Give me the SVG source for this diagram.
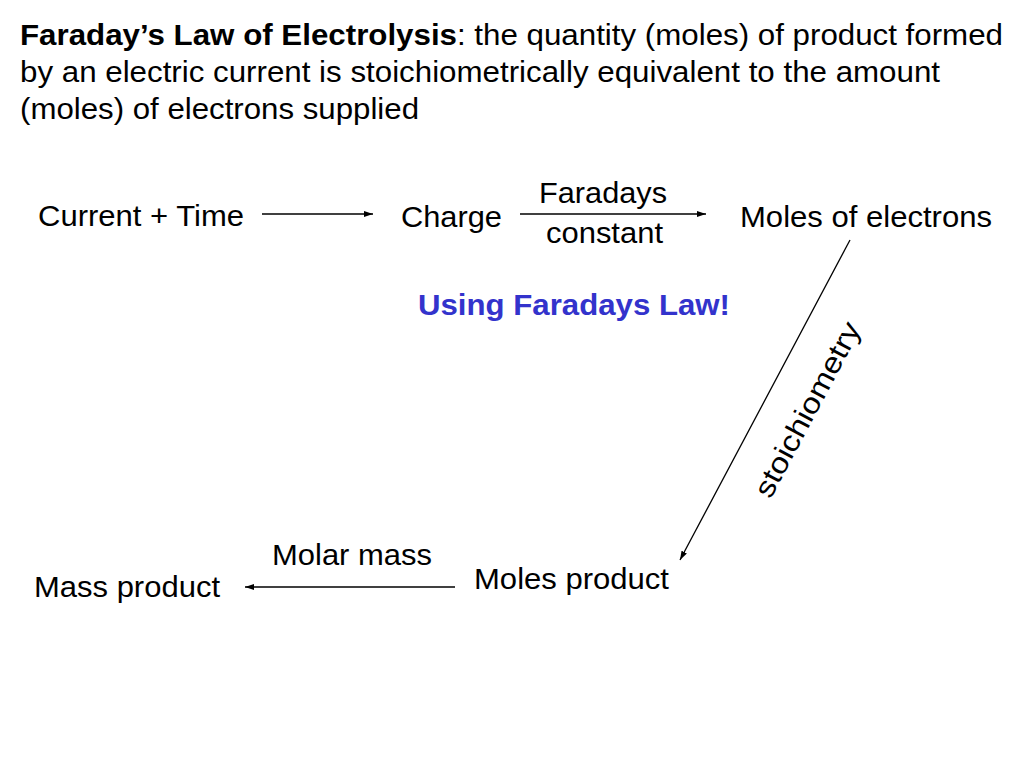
<svg xmlns="http://www.w3.org/2000/svg" width="1024" height="768" viewBox="0 0 1024 768">
<style>
text{font-family:"Liberation Sans",Arial,sans-serif;font-size:29px;fill:#000}
.c{stroke:#000;stroke-width:1.3;fill:none;marker-end:url(#a)}
</style>
<defs><marker id="a" markerWidth="10" markerHeight="8" refX="9" refY="4" orient="auto" markerUnits="userSpaceOnUse"><path d="M0,1 L9,4 L0,7 Z" fill="#000"/></marker></defs>
<rect width="1024" height="768" fill="#fff"/>
<g id="title">
<text x="20" y="45" textLength="983" lengthAdjust="spacingAndGlyphs"><tspan font-weight="bold">Faraday’s Law of Electrolysis</tspan>: the quantity (moles) of product formed</text>
<text x="20" y="82" textLength="920" lengthAdjust="spacingAndGlyphs">by an electric current is stoichiometrically equivalent to the amount</text>
<text x="20" y="119" textLength="399" lengthAdjust="spacingAndGlyphs">(moles) of electrons supplied</text>
</g>
<g id="n1"><text x="38" y="226" textLength="206" lengthAdjust="spacingAndGlyphs">Current + Time</text></g>
<g id="n2"><text x="401" y="227" textLength="101" lengthAdjust="spacingAndGlyphs">Charge</text></g>
<g id="n3"><text x="740" y="227" textLength="252" lengthAdjust="spacingAndGlyphs">Moles of electrons</text></g>
<g id="n4"><text x="474" y="589" textLength="195" lengthAdjust="spacingAndGlyphs">Moles product</text></g>
<g id="n5"><text x="34" y="597" textLength="186" lengthAdjust="spacingAndGlyphs">Mass product</text></g>
<g id="note"><text x="418" y="315" font-weight="bold" style="fill:#3333cc" textLength="312" lengthAdjust="spacingAndGlyphs">Using Faradays Law!</text></g>
<g id="connectors">
<line class="c" x1="262" y1="214" x2="373" y2="214"/>
<line class="c" x1="520" y1="214" x2="706" y2="214"/>
<line class="c" x1="850" y1="240" x2="680" y2="560"/>
<line class="c" x1="455" y1="587" x2="245" y2="587"/>
<text x="539" y="203" textLength="128" lengthAdjust="spacingAndGlyphs">Faradays</text>
<text x="546" y="243" textLength="117" lengthAdjust="spacingAndGlyphs">constant</text>
<text x="272" y="565" textLength="160" lengthAdjust="spacingAndGlyphs">Molar mass</text>
<text x="-97" y="0" textLength="194" lengthAdjust="spacingAndGlyphs" transform="translate(816,414) rotate(-62)">stoichiometry</text>
</g>
</svg>
